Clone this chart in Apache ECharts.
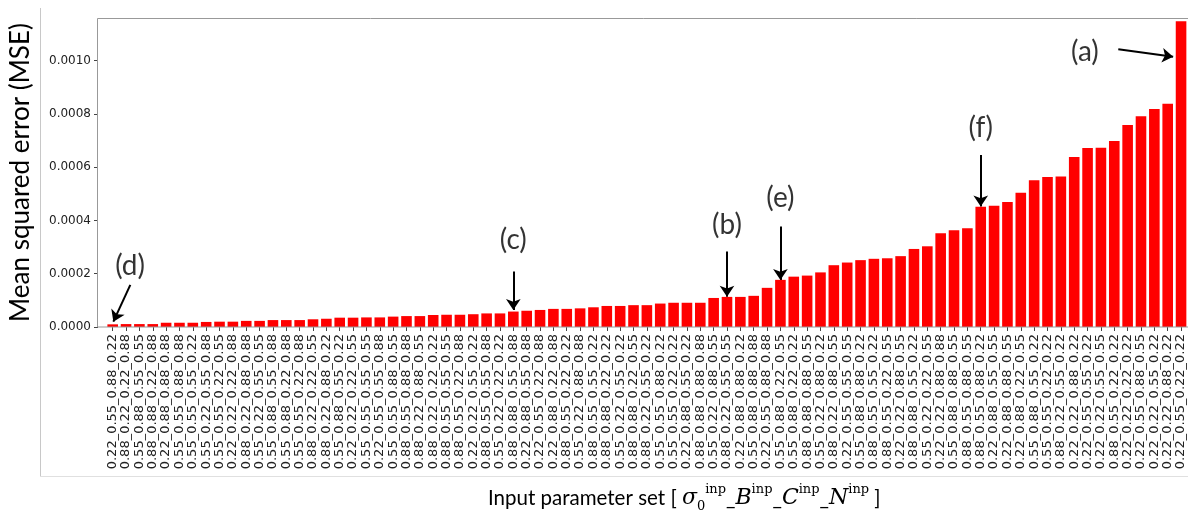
<!DOCTYPE html>
<html><head><meta charset="utf-8">
<script src="https://cdn.jsdelivr.net/npm/echarts@6/dist/echarts.min.js"></script>
<style>html,body{margin:0;padding:0;background:#fff}#c{width:1188px;height:510px}</style>
</head><body><div id="c"></div>
<script>
const categories = [
 "0.22_0.55_0.88_0.22","0.88_0.22_0.22_0.88","0.55_0.88_0.55_0.55","0.88_0.88_0.22_0.88","0.22_0.88_0.88_0.88",
 "0.55_0.55_0.88_0.88","0.55_0.55_0.55_0.22","0.55_0.22_0.55_0.88","0.55_0.55_0.22_0.55","0.22_0.22_0.22_0.88",
 "0.88_0.22_0.88_0.88","0.55_0.22_0.55_0.55","0.55_0.88_0.55_0.88","0.55_0.88_0.22_0.88","0.55_0.55_0.22_0.88",
 "0.88_0.22_0.22_0.55","0.88_0.22_0.88_0.22","0.55_0.88_0.55_0.22","0.22_0.22_0.22_0.55","0.55_0.55_0.55_0.55",
 "0.22_0.55_0.55_0.88","0.55_0.55_0.88_0.55","0.88_0.55_0.88_0.88","0.88_0.22_0.88_0.55","0.88_0.22_0.22_0.22",
 "0.88_0.55_0.55_0.55","0.88_0.55_0.22_0.88","0.22_0.22_0.55_0.22","0.88_0.55_0.55_0.88","0.55_0.22_0.22_0.22",
 "0.88_0.88_0.55_0.88","0.22_0.88_0.55_0.88","0.22_0.55_0.22_0.88","0.22_0.88_0.22_0.88","0.88_0.55_0.22_0.22",
 "0.55_0.22_0.88_0.88","0.88_0.55_0.55_0.22","0.88_0.88_0.22_0.22","0.55_0.22_0.55_0.22","0.88_0.88_0.22_0.55",
 "0.88_0.22_0.55_0.22","0.55_0.55_0.88_0.22","0.55_0.55_0.22_0.22","0.22_0.88_0.55_0.22","0.88_0.88_0.88_0.88",
 "0.55_0.22_0.88_0.55","0.88_0.22_0.55_0.55","0.22_0.88_0.88_0.22","0.55_0.88_0.88_0.88","0.22_0.55_0.88_0.88",
 "0.55_0.88_0.22_0.55","0.55_0.88_0.22_0.22","0.88_0.88_0.88_0.55","0.55_0.22_0.88_0.22","0.88_0.22_0.88_0.55",
 "0.22_0.55_0.55_0.55","0.55_0.88_0.88_0.22","0.88_0.55_0.55_0.22","0.88_0.55_0.22_0.55","0.22_0.22_0.88_0.55",
 "0.88_0.88_0.55_0.22","0.55_0.22_0.22_0.55","0.22_0.22_0.88_0.88","0.55_0.88_0.88_0.55","0.88_0.55_0.88_0.55",
 "0.88_0.55_0.88_0.22","0.22_0.88_0.55_0.55","0.22_0.88_0.88_0.55","0.22_0.88_0.22_0.55","0.55_0.88_0.55_0.22",
 "0.55_0.55_0.22_0.22","0.88_0.22_0.55_0.22","0.22_0.22_0.88_0.22","0.22_0.55_0.55_0.22","0.22_0.22_0.55_0.55",
 "0.88_0.55_0.22_0.22","0.22_0.22_0.22_0.22","0.22_0.55_0.88_0.55","0.22_0.22_0.55_0.22","0.22_0.22_0.88_0.22",
 "0.22_0.55_0.22_0.22"
];
const mseValues = [
 0.000010,0.000011,0.000011,0.000011,0.000016,0.000016,0.000016,0.000019,0.000020,0.000020,
 0.000023,0.000023,0.000026,0.000026,0.000026,0.000029,0.000031,0.000035,0.000035,0.000036,
 0.000036,0.000039,0.000041,0.000041,0.000045,0.000046,0.000046,0.000048,0.000051,0.000051,
 0.000058,0.000061,0.000064,0.000068,0.000068,0.000070,0.000074,0.000079,0.000079,0.000082,
 0.000082,0.000088,0.000091,0.000091,0.000091,0.000109,0.000113,0.000113,0.000117,0.000147,
 0.000177,0.000189,0.000193,0.000205,0.000232,0.000242,0.000251,0.000256,0.000258,0.000266,
 0.000293,0.000303,0.000352,0.000363,0.000371,0.000451,0.000455,0.000469,0.000504,0.000551,
 0.000563,0.000565,0.000638,0.000672,0.000673,0.000698,0.000758,0.000791,0.000818,0.000838,
 0.001148
];
const yTickValues = [0, 0.0002, 0.0004, 0.0006, 0.0008, 0.0010];
const annotationLabels = ["(a)","(b)","(c)","(d)","(e)","(f)"];
const annotationTextAt = [[72.8,0.001034],[46,0.000383],[30,0.000327],[1.3,0.00023],[50,0.000483],[65,0.000746]];
const annotationArrows = [
 [[75.3,0.0010425],[79.41,0.0010147]],
 [[46,0.000283],[46,0.000114]],
 [[30,0.000208],[30,0.000064]],
 [[1.32,0.000158],[0.05,0.00002]],
 [[50,0.000377],[50,0.000176]],
 [[65,0.000646],[65,0.000452]]
];

const xTickValues = categories.map((_, i) => i);
const barData = mseValues.map((v, i) => [i, v]);

const chart = echarts.init(document.getElementById('c'), null, {renderer:'canvas'});
chart.setOption({
  animation:false,
  backgroundColor:'#fff',
  grid:{left:97, right:0, top:18, bottom:183},
  xAxis:{
    type:'value', min:-1.1, max:80.52,
    axisLine:{show:false, onZero:false},
    axisTick:{show:true, length:4, lineStyle:{color:'#444'}, customValues:xTickValues},
    axisLabel:{rotate:90, fontSize:13, fontFamily:'DejaVu Sans', color:'#222', margin:7,
      customValues:xTickValues, formatter:v=>categories[Math.round(v)] || ''},
    splitLine:{show:false}
  },
  yAxis:{
    type:'value', min:0, max:0.00116,
    axisLine:{show:false, onZero:false},
    axisTick:{show:true, length:4, lineStyle:{color:'#444'}, customValues:yTickValues},
    axisLabel:{fontSize:12, fontFamily:'DejaVu Sans', color:'#222', margin:7, customValues:yTickValues,
      formatter:v=>v.toFixed(4)},
    splitLine:{show:false},
    name:'Mean squared error (MSE)', nameLocation:'middle', nameRotate:90, nameGap:64,
    nameTextStyle:{fontSize:26, fontFamily:'Lato', color:'#000'}
  },
  series:[{
    type:'bar', data:barData, barWidth:10.6,
    itemStyle:{color:'#ff0000'}, silent:true
  },{
    type:'lines', coordinateSystem:'cartesian2d',
    symbol:['none','arrow'], symbolSize:11, silent:true,
    lineStyle:{color:'#000', width:2, opacity:1, curveness:0},
    data:annotationArrows.map(c=>({coords:c}))
  },{
    type:'scatter', symbolSize:0, silent:true,
    itemStyle:{color:'transparent'},
    label:{show:true, position:'inside', formatter:'{b}', fontSize:28, fontFamily:'Lato', color:'#000'},
    data:annotationTextAt.map((p,i)=>({value:p, name:annotationLabels[i]}))
  }],
  graphic:[
    {type:'line', shape:{x1:40.5,y1:8,x2:40.5,y2:477}, style:{stroke:'#c8c8c8', lineWidth:1}, silent:true},
    {type:'line', shape:{x1:40,y1:476.5,x2:1188,y2:476.5}, style:{stroke:'#e0e0e0', lineWidth:1}, silent:true},
    {type:'rect', shape:{x:97.5,y:18.5,width:1100,height:308.5}, style:{stroke:'#999', fill:null, lineWidth:1}, silent:true, z:10},
    {type:'text', left:488, top:483, silent:true, style:{
      text:'{t|Input parameter set [ }{m|σ}{sub|0}{sup|inp}{t|_}{m|B}{sup|inp}{t|_}{m|C}{sup|inp}{t|_}{m|N}{sup|inp}{t| ]}',
      rich:{
        t:{fontFamily:'Lato', fontSize:20.5, color:'#000', lineHeight:30},
        m:{fontFamily:'DejaVu Serif', fontStyle:'italic', fontSize:22, color:'#000', lineHeight:30},
        sup:{fontFamily:'DejaVu Serif', fontSize:13, color:'#000', lineHeight:14, verticalAlign:'top'},
        sub:{fontFamily:'DejaVu Serif', fontSize:13, color:'#000', lineHeight:14, verticalAlign:'bottom'}
      }
    }}
  ]
});
</script></body></html>
